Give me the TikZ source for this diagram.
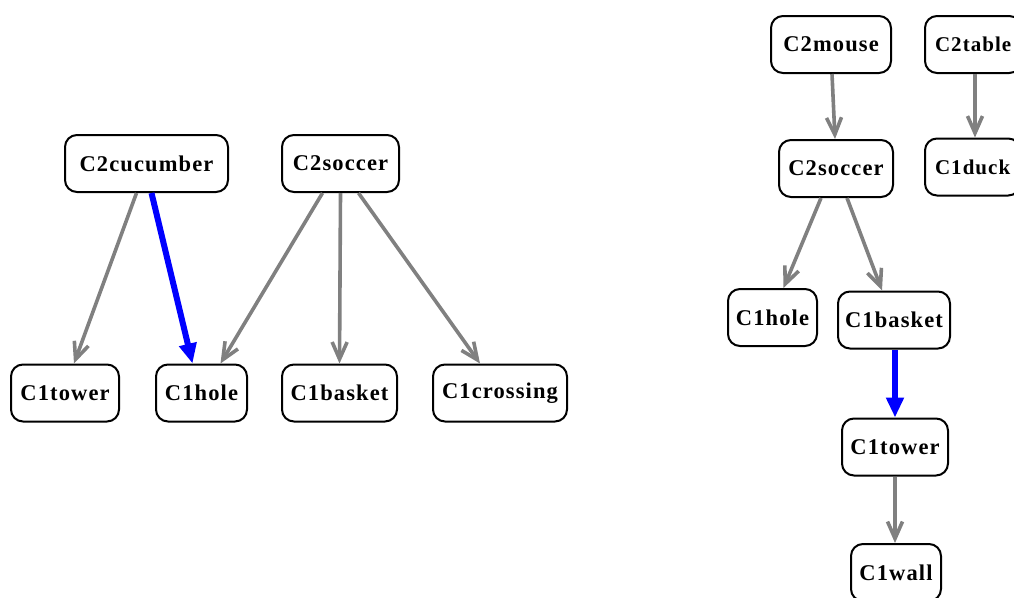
\documentclass[tikz,border=0pt]{standalone}
\usepackage{fontspec}
\setmainfont{Liberation Serif}[LetterSpace=5]
\usetikzlibrary{arrows.meta}
\tikzset{
  box/.style={draw=black, line width=2pt, rounded corners=12pt, fill=white,
    minimum height=57pt, inner sep=0pt, font=\fontsize{22.5}{25}\selectfont\bfseries},
  edgebox/.style={box, anchor=west, inner xsep=10pt, font=\fontsize{21}{25}\selectfont\bfseries},
  gedge/.style={draw={rgb,255:red,128;green,128;blue,128}, line width=3.6pt,
    -{Straight Barb[length=17pt,width=15pt,line width=3.6pt]}},
  bedge/.style={draw=blue, line width=6pt, -{Triangle[length=20pt,width=17pt]}}
}
\begin{document}
\begin{tikzpicture}[x=1pt,y=-1pt]
\useasboundingbox (0,0) rectangle (1014,597);
% left component
\node[box, minimum width=163pt] (cuc) at (146.5,163.5) {C2cucumber};
\node[box, minimum width=117pt] (socL) at (340.5,163.5) {C2soccer};
\node[box, minimum width=108pt] (towL) at (65,393) {C1tower};
\node[box, minimum width=91pt] (holL) at (201.5,393) {C1hole};
\node[box, minimum width=115pt] (basL) at (339.5,393) {C1basket};
\node[box, minimum width=134pt] (cro) at (500,393) {C1crossing};
% right component
\node[box, minimum width=120pt] (mou) at (831,44.5) {C2mouse};
\node[edgebox] (tab) at (924,44.5) {C2table};
\node[box, minimum width=114pt] (socR) at (836,168.5) {C2soccer};
\node[edgebox] (duc) at (924,167) {C1duck};
\node[box, minimum width=89pt] (holR) at (772.5,317.5) {C1hole};
\node[box, minimum width=112pt] (basR) at (894,320) {C1basket};
\node[box, minimum width=106pt] (towR) at (895,447) {C1tower};
\node[box, minimum width=90pt] (wal) at (896,572.5) {C1wall};
% edges left
\draw[gedge] ([xshift=-10pt]cuc.south) -- ([xshift=9pt]towL.north);
\draw[gedge] ([xshift=-18pt]socL.south) -- ([xshift=19pt]holL.north);
\draw[gedge] (socL.south) -- (basL.north);
\draw[gedge] ([xshift=18pt]socL.south) -- ([xshift=-20pt]cro.north);
\draw[bedge] ([xshift=5pt]cuc.south) -- ([xshift=-9pt]holL.north);
% edges right
\draw[gedge] ([xshift=1pt]mou.south) -- ([xshift=-1pt]socR.north);
\draw[gedge] ([xshift=51pt]tab.south west) -- ([xshift=51pt]duc.north west);
\draw[gedge] ([xshift=-15pt]socR.south) -- ([xshift=11pt]holR.north);
\draw[gedge] ([xshift=11pt]socR.south) -- ([xshift=-12pt]basR.north);
\draw[bedge] ([xshift=1pt]basR.south) -- (towR.north);
\draw[gedge] (towR.south) -- ([xshift=-1pt]wal.north);
\end{tikzpicture}
\end{document}
